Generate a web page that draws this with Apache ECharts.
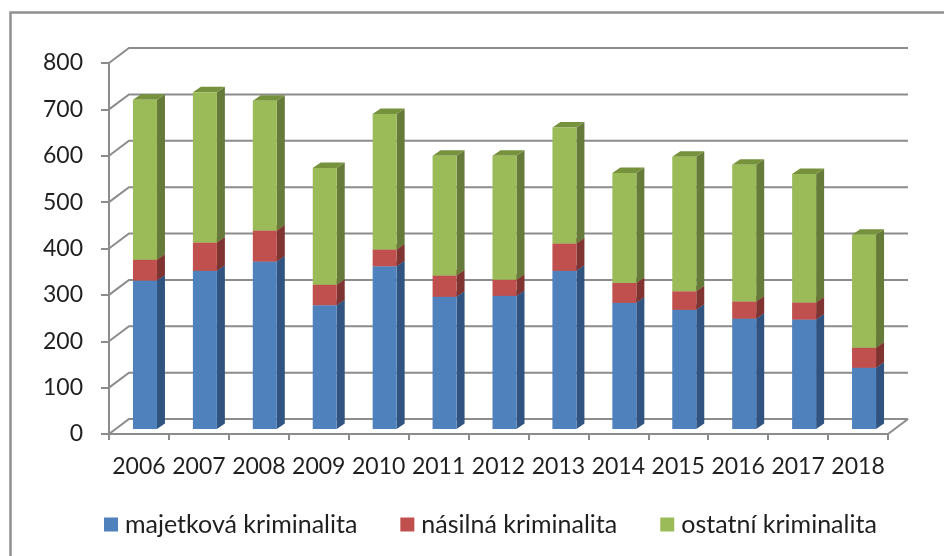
<!DOCTYPE html>
<html>
<head>
<meta charset="utf-8">
<style>
  html, body { margin: 0; padding: 0; background: #fff; }
  #chart { width: 944px; height: 556px; filter: blur(0.45px); }
</style>
</head>
<body>
<div id="chart"></div>
<script src="https://cdn.jsdelivr.net/npm/echarts@6/dist/echarts.min.js"></script>
<script>
const years = ["2006", "2007", "2008", "2009", "2010", "2011", "2012", "2013", "2014", "2015", "2016", "2017", "2018"];
const yTicks = [0, 100, 200, 300, 400, 500, 600, 700, 800];
const majetkova = [320, 341, 361, 267, 351, 285, 287, 341, 272, 257, 238, 236, 132];
const nasilna = [45, 61, 67, 44, 36, 46, 35, 59, 43, 40, 37, 37, 43];
const ostatni = [345, 324, 280, 252, 292, 258, 267, 250, 237, 290, 295, 277, 244];

const fontName = "Lato";
const axisColor = "#8c8c8c";
const textColor = "#1f1f1f";

// back wall is shifted from the axis plane, bars stand in the middle of the floor
const wallDx = 20, wallDy = -15;
const barDx = 6, barDy = -5, barW = 24, depthX = 8, depthY = -5.5;

function makeRows(values, below) {
  return values.map((v, i) => {
    let base = 0;
    below.forEach((s) => { base += s[i]; });
    return [i, base, base + v];
  });
}

// one box of the stack: front, right side and top face
function boxRenderer(front, side, top) {
  return function (params, api) {
    const bottom = api.coord([api.value(0), api.value(1)]);
    const upper = api.coord([api.value(0), api.value(2)]);
    const x0 = bottom[0] + barDx - barW / 2;
    const x1 = x0 + barW;
    const y0 = bottom[1] + barDy;
    const y1 = upper[1] + barDy;
    return {
      type: "group",
      children: [
        {
          type: "polygon",
          shape: { points: [[x1, y0], [x1 + depthX, y0 + depthY], [x1 + depthX, y1 + depthY], [x1, y1]] },
          style: { fill: side },
        },
        {
          type: "polygon",
          shape: { points: [[x0, y1], [x1, y1], [x1 + depthX, y1 + depthY], [x0 + depthX, y1 + depthY]] },
          style: { fill: top },
        },
        {
          type: "rect",
          shape: { x: x0, y: y1, width: barW, height: y0 - y1 },
          style: { fill: front },
        },
      ],
    };
  };
}

function wallRenderer(params, api) {
  const sys = params.coordSys;
  const y = api.coord([0, api.value(0)])[1];
  const children = [
    {
      type: "polyline",
      shape: { points: [[sys.x, y], [sys.x + wallDx, y + wallDy], [sys.x + sys.width + wallDx, y + wallDy]] },
      style: { fill: "none", stroke: axisColor, lineWidth: 2 },
    },
  ];
  if (api.value(0) === 0) {
    children.push({
      type: "line",
      shape: { x1: sys.x + sys.width, y1: y, x2: sys.x + sys.width + wallDx, y2: y + wallDy },
      style: { stroke: axisColor, lineWidth: 2 },
    });
  }
  return { type: "group", children: children };
}

function boxSeries(name, rows, front, side, top) {
  return {
    name: name,
    type: "custom",
    coordinateSystem: "cartesian2d",
    data: rows,
    encode: { x: 0, y: [1, 2] },
    itemStyle: { color: front },
    renderItem: boxRenderer(front, side, top),
    animation: false,
  };
}

const chart = echarts.init(document.getElementById("chart"));

const option = {
  backgroundColor: "#fff",
  animation: false,
  textStyle: { fontFamily: fontName },
  graphic: [
    {
      type: "polyline",
      silent: true,
      shape: { points: [[10.5, 556], [10.5, 12.5], [944, 12.5]] },
      style: { fill: "none", stroke: "#909090", lineWidth: 2.5 },
    },
  ],
  grid: { left: 109, top: 63, width: 779, height: 371 },
  legend: {
    data: ["majetková kriminalita", "násilná kriminalita", "ostatní kriminalita"],
    left: 99,
    top: 507,
    icon: "rect",
    itemWidth: 14,
    itemHeight: 14,
    itemGap: 43,
    selectedMode: false,
    textStyle: { fontFamily: fontName, fontSize: 25, color: textColor, padding: [0, 0, 0, 2] },
  },
  xAxis: {
    type: "category",
    data: years,
    axisLine: { show: true, lineStyle: { color: axisColor, width: 2 } },
    axisTick: { show: true, length: 6, lineStyle: { color: axisColor, width: 2 } },
    axisLabel: { fontFamily: fontName, fontSize: 23, color: textColor, margin: 21, interval: 0 },
    splitLine: { show: false },
  },
  yAxis: {
    type: "value",
    min: 0,
    max: 800,
    interval: 100,
    axisLine: { show: true, lineStyle: { color: axisColor, width: 2 } },
    axisTick: { show: true, length: 8, lineStyle: { color: axisColor, width: 2 } },
    axisLabel: { fontFamily: fontName, fontSize: 23, color: textColor, margin: 26 },
    splitLine: { show: false },
  },
  series: [
    {
      type: "custom",
      coordinateSystem: "cartesian2d",
      data: yTicks.map((t) => [t]),
      encode: { y: 0 },
      renderItem: wallRenderer,
      silent: true,
      animation: false,
    },
    boxSeries("majetková kriminalita", makeRows(majetkova, []), "#4f81bd", "#30547f", "#3c6494"),
    boxSeries("násilná kriminalita", makeRows(nasilna, [majetkova]), "#c0504d", "#803432", "#9a3f3c"),
    boxSeries("ostatní kriminalita", makeRows(ostatni, [majetkova, nasilna]), "#9bbb59", "#667a3a", "#76923c"),
  ],
};

chart.setOption(option);
</script>
</body>
</html>
